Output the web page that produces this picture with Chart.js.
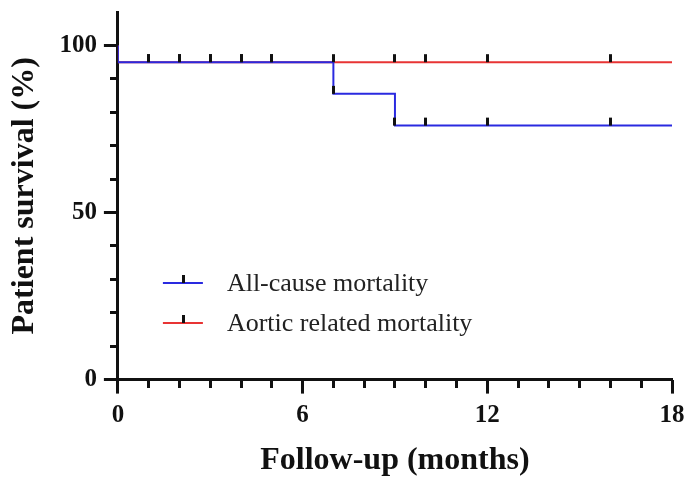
<!DOCTYPE html>
<html>
<head>
<meta charset="utf-8">
<script src="https://cdn.jsdelivr.net/npm/chart.js@4/dist/chart.umd.min.js"></script>
<style>
  html, body { margin: 0; padding: 0; background: #fff; }
</style>
</head>
<body>
<canvas id="kmChart" width="692" height="480"></canvas>
<script>
// Kaplan-Meier curves (months, % surviving), corners of each step
const allCauseTimes = [0, 0, 7, 7, 9, 9, 18];
const allCauseSurv = [100, 95, 95, 85.5, 85.5, 76, 76];
const aorticTimes = [0, 0, 18];
const aorticSurv = [100, 95, 95];

// censored patients
const allCauseCensorTimes = [1, 2, 3, 4, 5, 7, 9, 10, 12, 16];
const allCauseCensorSurv = [95, 95, 95, 95, 95, 85.5, 76, 76, 76, 76];
const aorticCensorTimes = [1, 2, 3, 4, 5, 7, 9, 10, 12, 16];
const aorticCensorSurv = [95, 95, 95, 95, 95, 95, 95, 95, 95, 95];

const seriesLabels = ["All-cause mortality", "Aortic related mortality"];

// axis ticks
const xMajorTicks = [0, 6, 12, 18];
const xMinorTicks = [0, 1, 2, 3, 4, 5, 6, 7, 8, 9, 10, 11, 12, 13, 14, 15, 16, 17, 18];
const yMajorTicks = [0, 50, 100];
const yMinorTicks = [0, 10, 20, 30, 40, 50, 60, 70, 80, 90, 100];

const blue = "#2a2ae0";
const red = "#e83434";
const ink = "#111";
const serif = "'Liberation Serif', 'Times New Roman', serif";

const toPoints = (xs, ys) => xs.map((x, i) => ({ x: x, y: ys[i] }));

// small vertical bar sitting on the curve
const censorMark = document.createElement("canvas");
censorMark.width = 3;
censorMark.height = 18;
const cm = censorMark.getContext("2d");
cm.fillStyle = ink;
cm.fillRect(0, 1, 3, 8);

// legend drawn inside the plot area
const insideLegend = {
  id: "insideLegend",
  afterDraw(chart) {
    const ctx = chart.ctx;
    const area = chart.chartArea;
    const x0 = area.left + 45;
    const y0 = area.top + 271;
    [0, 1].forEach(i => {
      const ds = chart.data.datasets[i];
      const y = y0 + i * 40;
      ctx.save();
      ctx.strokeStyle = ds.borderColor;
      ctx.lineWidth = 2;
      ctx.beginPath();
      ctx.moveTo(x0, y);
      ctx.lineTo(x0 + 40, y);
      ctx.stroke();
      ctx.drawImage(censorMark, x0 + 19, y - 9);
      ctx.fillStyle = "#222";
      ctx.font = "26px " + serif;
      ctx.textBaseline = "middle";
      ctx.fillText(ds.label, x0 + 64, y + 1);
      ctx.restore();
    });
  }
};

const tickFont = { family: serif, size: 25, weight: "bold" };
const titleFont = { family: serif, size: 32, weight: "bold" };

new Chart(document.getElementById("kmChart"), {
  type: "line",
  data: {
    datasets: [
      {
        label: seriesLabels[0],
        data: toPoints(allCauseTimes, allCauseSurv),
        borderColor: blue,
        borderWidth: 2,
        pointRadius: 0,
        order: 1
      },
      {
        label: seriesLabels[1],
        data: toPoints(aorticTimes, aorticSurv),
        borderColor: red,
        borderWidth: 2,
        pointRadius: 0,
        order: 2
      },
      {
        label: "censored all-cause",
        data: toPoints(allCauseCensorTimes, allCauseCensorSurv),
        showLine: false,
        pointStyle: censorMark,
        pointRadius: 3,
        order: 0
      },
      {
        label: "censored aortic",
        data: toPoints(aorticCensorTimes, aorticCensorSurv),
        showLine: false,
        pointStyle: censorMark,
        pointRadius: 3,
        order: 0
      }
    ]
  },
  options: {
    responsive: false,
    animation: false,
    layout: { padding: { top: 12, right: 20, bottom: 0, left: 6 } },
    plugins: {
      legend: { display: false },
      tooltip: { enabled: false }
    },
    scales: {
      x: {
        type: "linear",
        position: "bottom",
        min: 0,
        max: 18,
        afterBuildTicks: s => { s.ticks = xMajorTicks.map(v => ({ value: v })); },
        border: { color: ink, width: 3 },
        grid: { drawOnChartArea: false, tickLength: 14, tickWidth: 3, tickColor: ink },
        ticks: { color: ink, padding: 7, font: tickFont },
        title: { display: true, text: "Follow-up (months)", color: ink, font: titleFont, padding: { top: 4, bottom: 0 } }
      },
      xMinor: {
        type: "linear",
        axis: "x",
        position: { y: 0 },
        min: 0,
        max: 18,
        afterBuildTicks: s => { s.ticks = xMinorTicks.map(v => ({ value: v })); },
        border: { display: false },
        grid: { drawOnChartArea: false, tickLength: 8, tickWidth: 3, tickColor: ink },
        ticks: { display: false }
      },
      y: {
        type: "linear",
        position: "left",
        min: 0,
        max: 110,
        afterBuildTicks: s => { s.ticks = yMajorTicks.map(v => ({ value: v })); },
        afterFit: s => { s.paddingTop = 0; },
        border: { color: ink, width: 3 },
        grid: { drawOnChartArea: false, tickLength: 14, tickWidth: 3, tickColor: ink },
        ticks: { color: ink, padding: 7, font: tickFont },
        title: { display: true, text: "Patient survival (%)", color: ink, font: titleFont, padding: { top: 0, bottom: 8 } }
      },
      yMinor: {
        type: "linear",
        axis: "y",
        position: { x: 0 },
        min: 0,
        max: 110,
        afterBuildTicks: s => { s.ticks = yMinorTicks.map(v => ({ value: v })); },
        afterFit: s => { s.paddingTop = 0; },
        border: { display: false },
        grid: { drawOnChartArea: false, tickLength: 8, tickWidth: 3, tickColor: ink },
        ticks: { display: false }
      }
    }
  },
  plugins: [insideLegend]
});
</script>
</body>
</html>
